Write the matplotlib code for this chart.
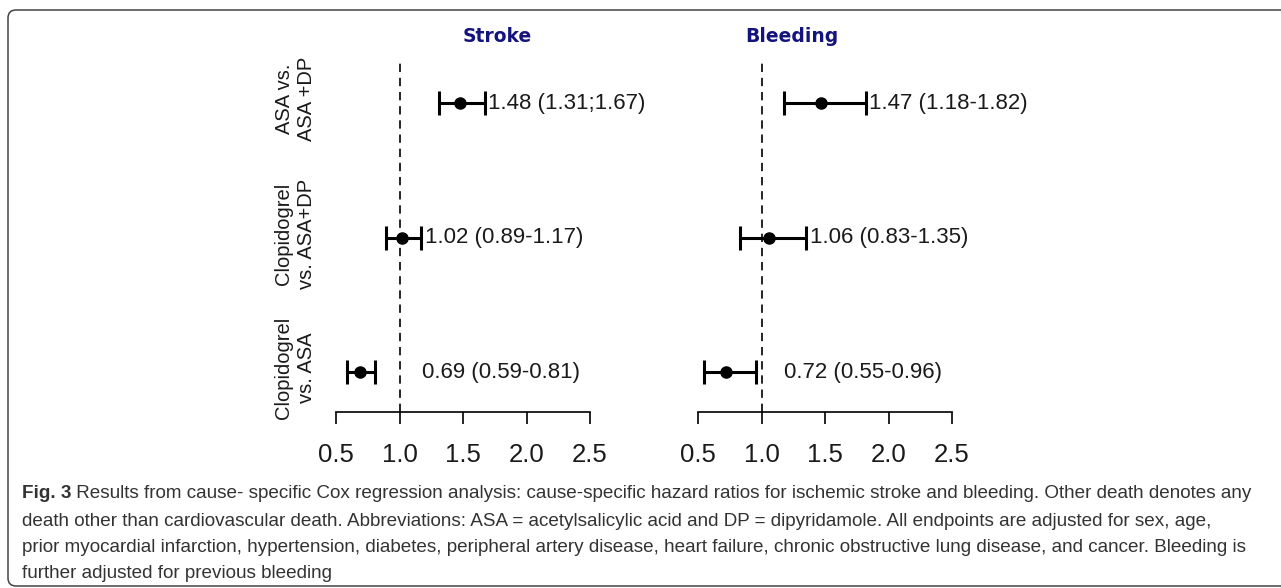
import matplotlib
matplotlib.use("Agg")
import matplotlib.pyplot as plt
import matplotlib.transforms as mtransforms
from matplotlib.patches import FancyBboxPatch
from matplotlib import font_manager

# data
groups = ["ASA vs.\nASA +DP", "Clopidogrel\nvs. ASA+DP", "Clopidogrel\nvs. ASA"]
rows = [3, 2, 1]

stroke_hr = [1.48, 1.02, 0.69]
stroke_lo = [1.31, 0.89, 0.59]
stroke_hi = [1.67, 1.17, 0.81]
stroke_txt = ["1.48 (1.31;1.67)", "1.02 (0.89-1.17)", "0.69 (0.59-0.81)"]

bleed_hr = [1.47, 1.06, 0.72]
bleed_lo = [1.18, 0.83, 0.55]
bleed_hi = [1.82, 1.35, 0.96]
bleed_txt = ["1.47 (1.18-1.82)", "1.06 (0.83-1.35)", "0.72 (0.55-0.96)"]

xticks = [0.5, 1.0, 1.5, 2.0, 2.5]
xticklabels = ["0.5", "1.0", "1.5", "2.0", "2.5"]

caption_bold = "Fig. 3"
caption_lines = [
    " Results from cause- specific Cox regression analysis: cause-specific hazard ratios for ischemic stroke and bleeding. Other death denotes any",
    "death other than cardiovascular death. Abbreviations: ASA = acetylsalicylic acid and DP = dipyridamole. All endpoints are adjusted for sex, age,",
    "prior myocardial infarction, hypertension, diabetes, peripheral artery disease, heart failure, chronic obstructive lung disease, and cancer. Bleeding is",
    "further adjusted for previous bleeding",
]

W, H = 1281, 588
fig = plt.figure(figsize=(W / 100, H / 100), dpi=100)

names = {f.name for f in font_manager.fontManager.ttflist}
cap_font = "Liberation Sans Narrow" if "Liberation Sans Narrow" in names else "Liberation Sans"


def px_axes(x0, x1, ytop, ybot):
    return fig.add_axes([x0 / W, 1 - ybot / H, (x1 - x0) / W, (ybot - ytop) / H])


def panel(ax, hr, lo, hi, txt, title, title_x):
    ax.set_xlim(0.5, 2.5)
    ax.set_ylim(0.703, 3.305)
    ax.axvline(1.0, color="black", lw=1.2, ls=(0, (5, 3.5)))
    xerr = [[h - l for h, l in zip(hr, lo)], [u - h for h, u in zip(hr, hi)]]
    eb = ax.errorbar(hr, rows, xerr=xerr, fmt="o", color="black", ms=8,
                     elinewidth=2.2, capsize=8.3, capthick=2.2)
    for art in eb.get_children():
        art.set_clip_on(False)
    for y, u, t in zip(rows, hi, txt):
        ax.text(max(u, 1.15) + 0.03, y, t, ha="left", va="center",
                fontsize=16, family="Liberation Sans", color="#1a1a1a")
    for s in ["top", "left", "right"]:
        ax.spines[s].set_visible(False)
    ax.spines["bottom"].set_linewidth(1.2)
    ax.set_yticks([])
    ax.set_xticks(xticks)
    ax.set_xticklabels(xticklabels, fontsize=18.5, family="Liberation Sans", color="#1a1a1a")
    ax.tick_params(axis="x", direction="out", length=8.6, width=1.2, pad=14)
    fig.text(title_x / W, 1 - 37 / H, title, ha="center", va="center",
             fontsize=13.5, fontweight="bold", family="DejaVu Sans", color="#14147f")


ax1 = px_axes(336, 590, 62, 412)
ax2 = px_axes(698, 952, 62, 412)
panel(ax1, stroke_hr, stroke_lo, stroke_hi, stroke_txt, "Stroke", 497)
panel(ax2, bleed_hr, bleed_lo, bleed_hi, bleed_txt, "Bleeding", 792)

# group labels (rotated) left of the stroke panel
tr = mtransforms.blended_transform_factory(fig.transFigure, ax1.transData)
for y, g in zip(rows, groups):
    fig.text(295 / W, y + 0.03, g, transform=tr, rotation=90, ha="center",
             va="center", multialignment="center", fontsize=14.5,
             family="Liberation Sans", color="#1a1a1a")

# caption
line_y = [494, 521, 548, 574]
cap_size = 14
cap_color = "#333333"
fig.canvas.draw()
r = fig.canvas.get_renderer()
tb = fig.text(22 / W, 1 - line_y[0] / H, caption_bold, fontsize=cap_size,
              fontweight="bold", family=cap_font, color=cap_color, va="center")
t1 = fig.text(22 / W, 1 - line_y[0] / H, caption_lines[0], fontsize=cap_size,
              family=cap_font, color=cap_color, va="center")
wb = tb.get_window_extent(r).width
w1 = t1.get_window_extent(r).width
scale = (1265 - 22) / (wb + w1)
cap_size = cap_size * scale
tb.set_fontsize(cap_size)
t1.set_fontsize(cap_size)
wb = tb.get_window_extent(r).width
t1.set_x((22 + wb) / W)
for y, line in zip(line_y[1:], caption_lines[1:]):
    fig.text(22 / W, 1 - y / H, line, fontsize=cap_size, family=cap_font,
             color=cap_color, va="center")

box = FancyBboxPatch((8, 2), 1300, 576, boxstyle="round,pad=0,rounding_size=8",
                     transform=mtransforms.IdentityTransform(), fill=False,
                     ec="#444444", lw=1.1)
fig.patches.append(box)

fig.savefig("out.png", dpi=100)
